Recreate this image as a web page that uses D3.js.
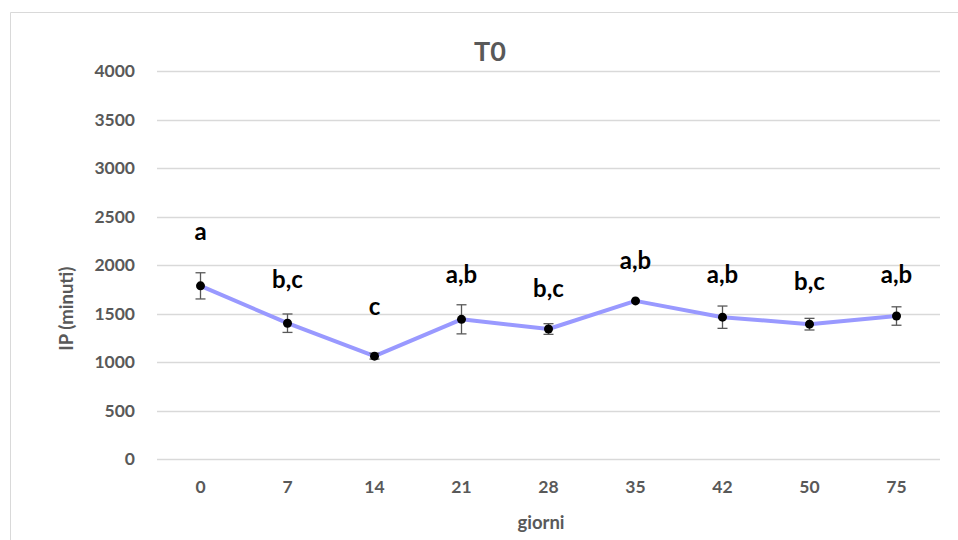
<!DOCTYPE html>
<html>
<head>
<meta charset="utf-8">
<script src="https://cdn.jsdelivr.net/npm/d3@7"></script>
<style>
body { margin: 0; background: #fff; }
text { font-family: Lato, "Open Sans", sans-serif; }
</style>
</head>
<body>
<div id="chart"></div>
<script>
var giorni = ["0", "7", "14", "21", "28", "35", "42", "50", "75"];
var ip = [1785, 1400, 1060, 1440, 1340, 1630, 1462, 1390, 1474];
var errore = [135, 95, 30, 150, 55, 0, 115, 60, 95];
var lettere = ["a", "b,c", "c", "a,b", "b,c", "a,b", "a,b", "b,c", "a,b"];
var lettereY = [2340, 1845, 1567, 1897, 1753, 2041, 1897, 1825, 1897];
var yTicks = [0, 500, 1000, 1500, 2000, 2500, 3000, 3500, 4000];

var margin = {top: 71, right: 18, bottom: 81, left: 157},
width = 958 - margin.left - margin.right,
height = 540 - margin.top - margin.bottom;

var svg = d3.select("#chart").append("svg")
.attr("width", 958)
.attr("height", 540);

// chart area border
svg.append("path")
.attr("d", "M10.5,540 V12.5 H958")
.attr("fill", "none")
.attr("stroke", "#d9d9d9")
.attr("stroke-width", 1);

var g = svg.append("g")
.attr("transform", "translate(" + margin.left + "," + margin.top + ")");

var x = d3.scaleBand()
.domain(giorni)
.range([0, width]);
var y = d3.scaleLinear()
.domain([0, 4000])
.range([height, 0]);

var cx = function(i) { return x(giorni[i]) + x.bandwidth() / 2; };

// gridlines
g.selectAll(".grid")
.data(yTicks)
.enter().append("line")
.attr("class", "grid")
.attr("x1", 0)
.attr("x2", width)
.attr("y1", function(d) { return Math.round(y(d)) + 0.5; })
.attr("y2", function(d) { return Math.round(y(d)) + 0.5; })
.attr("stroke", "#d9d9d9")
.attr("stroke-width", 1.3);

var yAxis = d3.axisLeft(y).tickValues(yTicks).tickFormat(d3.format("d")).tickSize(0).tickPadding(22);
g.append("g")
.call(yAxis)
.call(function(s) { s.select(".domain").remove(); })
.selectAll("text")
.attr("font-size", 17.5)
.attr("font-weight", "bold")
.attr("fill", "#595959");

var xAxis = d3.axisBottom(x).tickSize(0).tickPadding(22);
g.append("g")
.attr("transform", "translate(0," + height + ")")
.call(xAxis)
.call(function(s) { s.select(".domain").remove(); })
.selectAll("text")
.attr("font-size", 17.5)
.attr("font-weight", "bold")
.attr("fill", "#595959");

// line
var line = d3.line()
.x(function(d, i) { return cx(i); })
.y(function(d) { return y(d); });

g.append("path")
.datum(ip)
.attr("d", line)
.attr("fill", "none")
.attr("stroke", "#9999ff")
.attr("stroke-width", 4)
.attr("stroke-linejoin", "round");

// error bars
var eb = g.selectAll(".err")
.data(ip)
.enter().append("g")
.attr("class", "err")
.filter(function(d, i) { return errore[i] > 0; });

eb.append("line")
.attr("x1", function(d) { return cx(ip.indexOf(d)); })
.attr("x2", function(d) { return cx(ip.indexOf(d)); })
.attr("y1", function(d) { return y(d + errore[ip.indexOf(d)]); })
.attr("y2", function(d) { return y(d - errore[ip.indexOf(d)]); })
.attr("stroke", "#595959")
.attr("stroke-width", 1.3);
[1, -1].forEach(function(sgn) {
    eb.append("line")
    .attr("x1", function(d) { return cx(ip.indexOf(d)) - 5; })
    .attr("x2", function(d) { return cx(ip.indexOf(d)) + 5; })
    .attr("y1", function(d) { return y(d + sgn * errore[ip.indexOf(d)]); })
    .attr("y2", function(d) { return y(d + sgn * errore[ip.indexOf(d)]); })
    .attr("stroke", "#595959")
    .attr("stroke-width", 1.3);
});

// points
g.selectAll(".dot")
.data(ip)
.enter().append("circle")
.attr("class", "dot")
.attr("cx", function(d, i) { return cx(i); })
.attr("cy", function(d) { return y(d); })
.attr("r", 4.5)
.attr("fill", "#000");

// letters
g.selectAll(".lett")
.data(lettere)
.enter().append("text")
.attr("class", "lett")
.attr("x", function(d, i) { return cx(i); })
.attr("y", function(d, i) { return y(lettereY[i]); })
.attr("dy", "0.35em")
.attr("text-anchor", "middle")
.attr("font-size", 24)
.attr("font-weight", "bold")
.attr("fill", "#000")
.text(function(d) { return d; });

// title
svg.append("text")
.attr("x", 490)
.attr("y", 52)
.attr("dy", "0.35em")
.attr("text-anchor", "middle")
.attr("font-size", 27)
.attr("font-weight", "bold")
.attr("fill", "#595959")
.text("T0");

// axis titles
svg.append("text")
.attr("transform", "translate(67," + (margin.top + y(1550)) + ") rotate(-90)")
.attr("dy", "0.35em")
.attr("text-anchor", "middle")
.attr("font-size", 18.5)
.attr("font-weight", "bold")
.attr("fill", "#595959")
.text("IP (minuti)");

svg.append("text")
.attr("x", 541)
.attr("y", 523)
.attr("dy", "0.35em")
.attr("text-anchor", "middle")
.attr("font-size", 18.5)
.attr("font-weight", "bold")
.attr("fill", "#595959")
.text("giorni");
</script>
</body>
</html>
